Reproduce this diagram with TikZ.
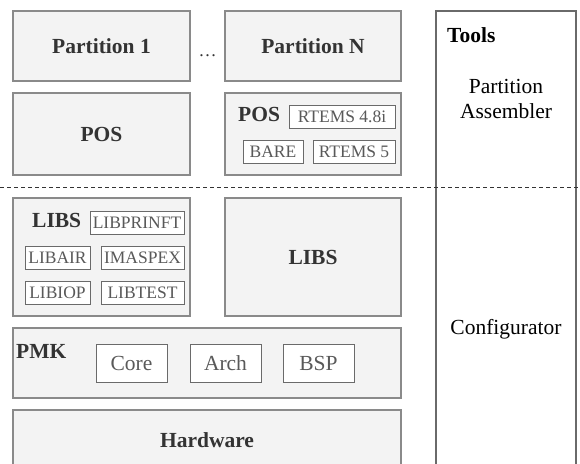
\documentclass[tikz,border=0pt]{standalone}
\usepackage{fontspec}
\setmainfont{Liberation Serif}
\newcommand{\bigtxt}{\fontsize{21.5}{25}\selectfont}
\newcommand{\smalltxt}{\fontsize{17.5}{20}\selectfont}
\definecolor{boxfill}{HTML}{F3F3F3}
\definecolor{boxline}{HTML}{8A8A8A}
\definecolor{labeltxt}{HTML}{333333}
\definecolor{subtxt}{HTML}{595959}
\definecolor{subline}{HTML}{6A6A6A}
\tikzset{
  layer/.style={draw=boxline, fill=boxfill, line width=1.2pt, inner sep=0pt},
  sub/.style={draw=subline, fill=white, line width=1pt, inner sep=0pt, text=subtxt},
  heading/.style={font=\bigtxt\bfseries, text=labeltxt, inner sep=0pt},
}
\begin{document}
\begin{tikzpicture}[x=1pt,y=-1pt]
\clip (0,0) rectangle (580,463);
\fill[white] (0,0) rectangle (580,463);

% tools column
\draw[draw=subline, line width=1.1pt] (436,480) -- (436,11) -- (576,11) -- (576,480);
\node[font=\bigtxt\bfseries, anchor=base west, inner sep=0pt] (tools) at (447,42) {Tools};
\node[font=\bigtxt, align=center, inner sep=0pt] (asm) at (506,99) {Partition\\Assembler};
\node[font=\bigtxt, inner sep=0pt] (cfg) at (506,329) {Configurator};

% partitions
\node[layer, minimum width=177pt, minimum height=70pt, font=\bigtxt\bfseries, text=labeltxt] (p1) at (101.5,46) {Partition 1};
\node[layer, minimum width=176pt, minimum height=70pt, font=\bigtxt\bfseries, text=labeltxt] (pn) at (313,46) {Partition N};
\node[font=\fontsize{18}{20}\selectfont, text=labeltxt, anchor=base, inner sep=0pt] (dots) at (207.5,56) {\ldots};

% partition operating systems
\node[layer, minimum width=177pt, minimum height=82pt, font=\bigtxt\bfseries, text=labeltxt] (posl) at (101.5,134) {POS};
\node[layer, minimum width=176pt, minimum height=82pt] (posr) at (313,134) {};
\node[heading, anchor=base west] (posrlbl) at (238,121) {POS};
\node[sub, minimum width=106pt, minimum height=23pt, font=\smalltxt] (rtems48) at (342,116.5) {RTEMS 4.8i};
\node[sub, minimum width=60pt, minimum height=23pt, font=\smalltxt] (bare) at (273,151.5) {BARE};
\node[sub, minimum width=82pt, minimum height=23pt, font=\smalltxt] (rtems5) at (354,151.5) {RTEMS 5};

% separator between partition and kernel space
\coordinate (sepl) at (0,187);
\coordinate (sepr) at (580,187);
\draw[dashed, dash pattern=on 4pt off 3pt, color=labeltxt, line width=1pt] (sepl) -- (sepr);

% libraries
\node[layer, minimum width=177pt, minimum height=118pt] (libsl) at (101.5,257) {};
\node[heading, anchor=base west] (libsllbl) at (32,227) {LIBS};
\node[sub, minimum width=94pt, minimum height=23pt, font=\smalltxt] (libprintf) at (137,222.5) {LIBPRINFT};
\node[sub, minimum width=65pt, minimum height=23pt, font=\smalltxt] (libair) at (57.5,257.5) {LIBAIR};
\node[sub, minimum width=83pt, minimum height=23pt, font=\smalltxt] (imaspex) at (142.5,257.5) {IMASPEX};
\node[sub, minimum width=65pt, minimum height=23pt, font=\smalltxt] (libiop) at (57.5,292.5) {LIBIOP};
\node[sub, minimum width=83pt, minimum height=23pt, font=\smalltxt] (libtest) at (142.5,292.5) {LIBTEST};
\node[layer, minimum width=176pt, minimum height=118pt, font=\bigtxt\bfseries, text=labeltxt] (libsr) at (313,257) {LIBS};

% kernel
\node[layer, minimum width=388pt, minimum height=70pt] (pmk) at (207,363) {};
\node[heading, anchor=base west] (pmklbl) at (16,358) {PMK};
\node[sub, minimum width=71pt, minimum height=38pt, font=\bigtxt] (core) at (131.5,363) {Core};
\node[sub, minimum width=71pt, minimum height=38pt, font=\bigtxt] (arch) at (225.5,363) {Arch};
\node[sub, minimum width=71pt, minimum height=38pt, font=\bigtxt] (bsp) at (318.5,363) {BSP};

% hardware
\node[layer, minimum width=388pt, minimum height=70pt] (hw) at (207,445) {};
\node[heading, anchor=base] (hwlbl) at (207,447) {Hardware};
\end{tikzpicture}
\end{document}
